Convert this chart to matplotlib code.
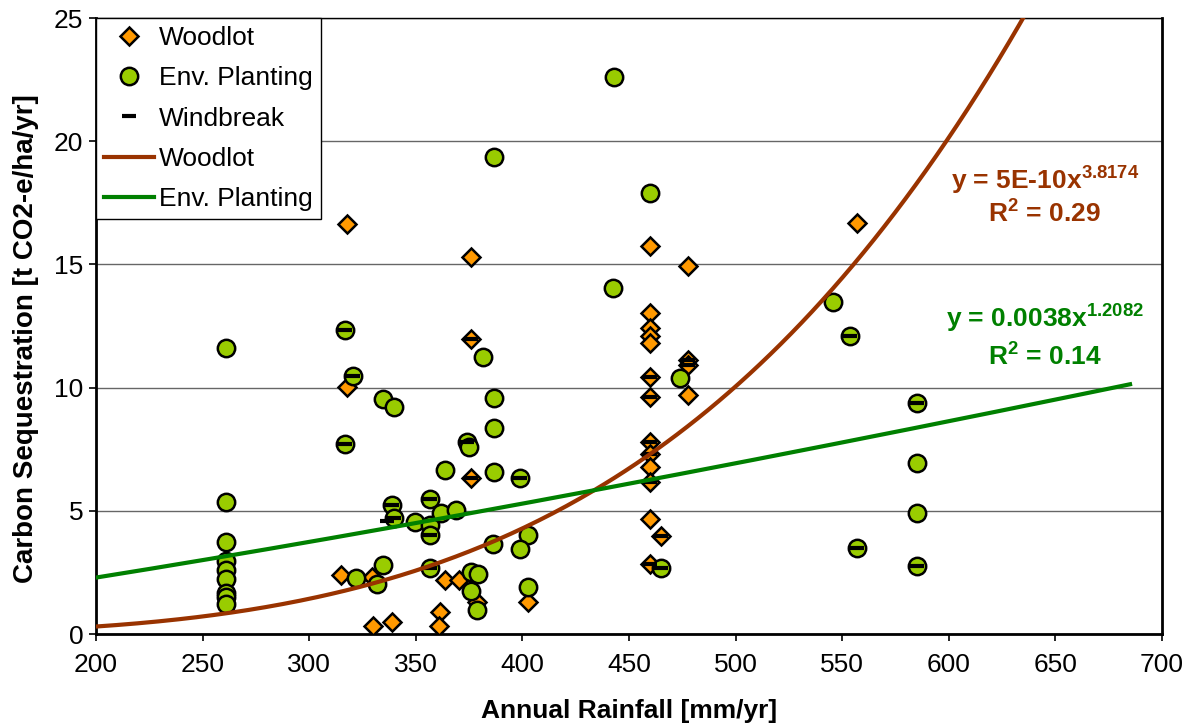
import numpy as np                # Importing numpy for the trend line curves
import matplotlib
matplotlib.use('Agg')             # No display in the sandbox
import matplotlib.pyplot as plt   # Importing pyplot for the chart

# Woodlot sites (rainfall mm/yr, sequestration t CO2-e/ha/yr)
woodlot_rain = [317.7, 317.7, 315, 329.5, 330, 338.8, 363.7, 370.3, 361.4, 361,
                375.9, 375.9, 376, 378.7, 402.6,
                460, 460, 460, 460, 460, 460, 460, 460, 460, 460, 460, 460, 465, 460,
                477.7, 477.7, 477.7, 477.7, 557]
woodlot_seq = [16.64, 10.02, 2.39, 2.31, 0.32, 0.49, 2.19, 2.19, 0.89, 0.32,
               15.3, 11.97, 6.33, 1.3, 1.3,
               15.75, 13.03, 12.42, 12.1, 11.8, 10.43, 9.62, 7.79, 7.3, 6.78, 6.17, 4.67, 3.98, 2.84,
               14.94, 11.12, 10.92, 9.7, 16.68]

# Environmental planting sites
env_rain = [261, 261, 261, 261, 261, 261, 261, 261, 261,
            317, 320.5, 317, 334.6, 339.8, 338.7, 339.8, 349.6, 356.7, 356.7, 356.7,
            361.8, 363.7, 322, 331.9, 334.6, 356.7, 374, 375, 386.7, 386.7, 386.7,
            398.9, 368.9, 386.2, 402.6, 398.9, 375.9, 379.2, 375.9, 378.7, 402.6,
            381.5, 386.7, 443, 442.5, 460, 474, 465, 545.7, 553.7, 585, 585, 585, 557, 585]
env_seq = [11.6, 5.35, 3.75, 2.95, 2.6, 2.25, 1.65, 1.5, 1.2,
           12.34, 10.47, 7.71, 9.54, 9.21, 5.24, 4.71, 4.55, 5.48, 4.42, 4.02,
           4.9, 6.66, 2.27, 2.03, 2.8, 2.68, 7.8, 7.6, 9.58, 8.36, 6.58,
           6.33, 5.03, 3.65, 4.02, 3.45, 2.52, 2.43, 1.75, 0.97, 1.91,
           11.24, 19.36, 22.6, 14.04, 17.9, 10.39, 2.68, 13.47, 12.09, 9.37, 6.94, 4.91, 3.49, 2.76]

# Windbreak sites (drawn as dashes)
wind_rain = [317, 320.5, 317, 338.7, 339.8, 336.5, 356.7, 356.7, 356.7, 374, 376, 398.9,
             375.9, 460, 460, 477.7, 477.7, 460, 460, 460, 465, 460, 465, 553.7, 585, 557, 585]
wind_seq = [12.34, 10.47, 7.71, 5.24, 4.71, 4.6, 5.48, 4.02, 2.68, 7.8, 6.33, 6.33,
            11.97, 10.43, 9.62, 11.12, 10.92, 7.79, 7.3, 6.17, 3.98, 2.84, 2.68, 12.09, 9.37, 3.49, 2.76]

# Power-law trend fits y = a * x^b
woodlot_fit = (5e-10, 3.8174)
env_fit = (0.0038, 1.2082)

plt.rcParams['font.family'] = ['Liberation Sans', 'DejaVu Sans']
plt.rcParams['mathtext.fontset'] = 'custom'
plt.rcParams['mathtext.rm'] = 'Liberation Sans'
plt.rcParams['mathtext.bf'] = 'Liberation Sans:bold'

fig = plt.figure(figsize=(11.95, 7.26), dpi=100)
ax = fig.add_axes([0.0803, 0.1267, 0.8921, 0.8485])

# Scatter points
ax.plot(woodlot_rain, woodlot_seq, 'D', color='#FF9900', markeredgecolor='black',
        markersize=9.3, markeredgewidth=1.8, label='Woodlot', zorder=3)
ax.plot(env_rain, env_seq, 'o', color='#99CC00', markeredgecolor='black',
        markersize=12.5, markeredgewidth=1.8, label='Env. Planting', zorder=3)
ax.plot(wind_rain, wind_seq, '_', color='black', markersize=10,
        markeredgewidth=3, label='Windbreak', zorder=4)

# Trend lines
xw = np.linspace(200, 685, 300)
ax.plot(xw, woodlot_fit[0] * xw ** woodlot_fit[1], color='#993300', linewidth=3,
        label='Woodlot', zorder=5)
ax.plot(xw, env_fit[0] * xw ** env_fit[1], color='#008000', linewidth=3,
        label='Env. Planting', zorder=5)

# Equations
fs = 19
ax.text(645, 18.45, r'y = 5E-10x$^{\mathbf{3.8174}}$', color='#993300', fontsize=fs,
        fontweight='bold', ha='center', va='center')
ax.text(645, 17.1, r'R$^{\mathbf{2}}$ = 0.29', color='#993300', fontsize=fs,
        fontweight='bold', ha='center', va='center')
ax.text(645, 12.85, r'y = 0.0038x$^{\mathbf{1.2082}}$', color='#008000', fontsize=fs,
        fontweight='bold', ha='center', va='center')
ax.text(645, 11.3, r'R$^{\mathbf{2}}$ = 0.14', color='#008000', fontsize=fs,
        fontweight='bold', ha='center', va='center')

# Axes
ax.set_xlim(200, 700)
ax.set_ylim(0, 25)
ax.set_xticks(range(200, 701, 50))
ax.set_yticks(range(0, 26, 5))
ax.tick_params(labelsize=fs, direction='out', length=5, width=1.2)
ax.tick_params(axis='x', pad=9)
ax.tick_params(axis='y', pad=4)
ax.yaxis.grid(True, color='#666666', linewidth=1)
ax.set_axisbelow(True)
for side in ['left', 'bottom', 'right']:
    ax.spines[side].set_linewidth(2)
ax.spines['top'].set_linewidth(1)
ax.set_xlabel('Annual Rainfall [mm/yr]', fontsize=fs, fontweight='bold')
ax.set_ylabel('Carbon Sequestration [t CO2-e/ha/yr]', fontsize=fs + 1, fontweight='bold')
ax.xaxis.set_label_coords(0.5, -0.105)
ax.yaxis.set_label_coords(-0.053, 0.479)

# Legend
leg = ax.legend(loc='upper left', bbox_to_anchor=(0, 1), fontsize=fs, fancybox=False,
                edgecolor='black', framealpha=1, borderaxespad=0, handlelength=1.9,
                labelspacing=0.62, handletextpad=0.2, borderpad=0.3)
leg.get_frame().set_linewidth(1)

plt.savefig('out.png', dpi=100)
